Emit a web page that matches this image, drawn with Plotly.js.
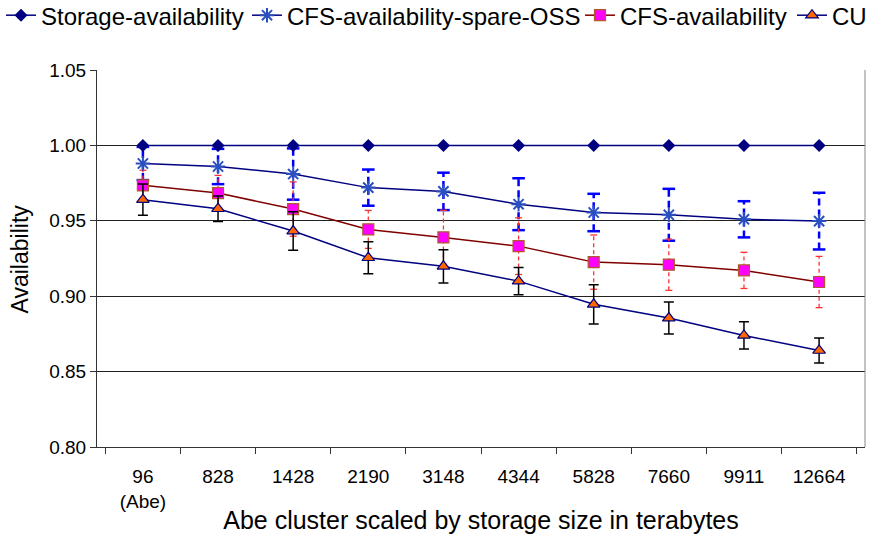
<!DOCTYPE html>
<html><head><meta charset="utf-8">
<script src="https://cdn.plot.ly/plotly-3.0.1.min.js"></script>
<style>html,body{margin:0;padding:0;background:#fff}#chart{width:872px;height:535px}</style>
</head><body><div id="chart"></div>
<script>
const categories = ["96<br>(Abe)","828","1428","2190","3148","4344","5828","7660","9911","12664"];
const storageAvail = [1,1,1,1,1,1,1,1,1,1];
const cfsSpare = [0.988,0.986,0.981,0.972,0.9695,0.961,0.9555,0.954,0.951,0.9498];
const cfsSpareErr = [0.011,0.0117,0.017,0.012,0.0124,0.0172,0.0124,0.0172,0.012,0.0188];
const cfsAvail = [0.9735,0.9684,0.9578,0.9443,0.939,0.9332,0.9226,0.9209,0.9171,0.9094];
const cfsAvailErr = [0.01,0.0117,0.018,0.0126,0.018,0.0188,0.018,0.017,0.012,0.017];
const cu = [0.964,0.958,0.9432,0.9255,0.9198,0.910,0.8946,0.8855,0.874,0.864];
const cuErr = [0.0104,0.0084,0.0128,0.0106,0.011,0.009,0.013,0.0106,0.009,0.0083];
const yTitle = 'Availability';
const xTitle = 'Abe cluster scaled by storage size in terabytes';

function errSegments(vals, errs){
  const x=[], y=[];
  vals.forEach((v,i)=>{ x.push(categories[i],categories[i],null); y.push(v-errs[i],v+errs[i],null); });
  return {x,y};
}
function errCaps(vals, errs){
  const x=[], y=[];
  vals.forEach((v,i)=>{ x.push(categories[i],categories[i]); y.push(v-errs[i],v+errs[i]); });
  return {x,y};
}
const sSeg = errSegments(cfsSpare, cfsSpareErr), sCap = errCaps(cfsSpare, cfsSpareErr);
const cSeg = errSegments(cfsAvail, cfsAvailErr), cCap = errCaps(cfsAvail, cfsAvailErr);

const traces = [
  {x:sSeg.x,y:sSeg.y,mode:'lines',line:{color:'#0000ff',width:2.5,dash:'7px,4px'},showlegend:false,hoverinfo:'skip'},
  {x:sCap.x,y:sCap.y,mode:'markers',marker:{symbol:'line-ew',size:9,line:{color:'#0000ff',width:2.5}},showlegend:false,hoverinfo:'skip'},
  {x:cSeg.x,y:cSeg.y,mode:'lines',line:{color:'#ff3333',width:1.3,dash:'4px,3px'},showlegend:false,hoverinfo:'skip'},
  {x:cCap.x,y:cCap.y,mode:'markers',marker:{symbol:'line-ew',size:5,line:{color:'#ff3333',width:1.3}},showlegend:false,hoverinfo:'skip'},
  {name:'Storage-availability',legend:'legend',x:categories,y:storageAvail,mode:'lines+markers',
   line:{color:'#000080',width:1.5},marker:{symbol:'diamond',size:10,color:'#000080'}},
  {name:'CFS-availability-spare-OSS',legend:'legend2',x:categories,y:cfsSpare,mode:'lines+markers',
   line:{color:'#000080',width:1.5},marker:{symbol:'asterisk-open',size:12,color:'#2a4fc0',line:{color:'#2a4fc0',width:2}}},
  {name:'CFS-availability',legend:'legend3',x:categories,y:cfsAvail,mode:'lines+markers',
   line:{color:'#800000',width:1.5},marker:{symbol:'square',size:11,color:'#ff00ff',line:{color:'#b05a2a',width:1.2}}},
  {name:'CU',legend:'legend4',x:categories,y:cu,mode:'lines+markers',
   error_y:{type:'data',array:cuErr,visible:true,color:'#000000',thickness:1.5,width:5},
   line:{color:'#000080',width:1.5},marker:{symbol:'triangle-up',size:11,color:'#ff6600',line:{color:'#000080',width:1.2}}}
];

function leg(xpx, anchor){
  return {orientation:'h',x:xpx/872,xref:'container',xanchor:anchor,y:1.204,yref:'paper',yanchor:'top',
    font:{size:24},itemwidth:30,bgcolor:'rgba(0,0,0,0)',borderwidth:0};
}

const layout = {
  width:872,height:535,
  margin:{l:97,r:7,t:70,b:88,autoexpand:false},
  paper_bgcolor:'#fff',plot_bgcolor:'#fff',
  font:{family:'"Liberation Sans", Arial, sans-serif',color:'#000',size:19},
  showlegend:true,
  legend:leg(1,'left'),
  legend2:leg(247,'left'),
  legend3:leg(580,'left'),
  legend4:leg(872,'right'),
  xaxis:{type:'category',showgrid:false,showline:true,linecolor:'#333',linewidth:1,
    ticks:'outside',tickson:'boundaries',ticklen:6,tickcolor:'#333',ticklabelstandoff:12,
    tickfont:{size:19},zeroline:false,automargin:false,
    title:{text:xTitle,font:{size:25},standoff:0}},
  yaxis:{range:[0.80,1.05],dtick:0.05,tickformat:'.2f',showgrid:true,gridcolor:'#222',gridwidth:1,
    showline:true,linecolor:'#333',linewidth:1,ticks:'outside',ticklen:6,tickcolor:'#333',
    tickfont:{size:19},zeroline:false,automargin:false},
  annotations:[{text:yTitle,textangle:-90,xref:'paper',yref:'paper',x:-0.1003,y:0.5,
    xanchor:'center',yanchor:'middle',showarrow:false,font:{size:23}}],
  shapes:[{type:'line',xref:'paper',yref:'paper',x0:1,x1:1,y0:0,y1:1,line:{color:'#888',width:1}}]
};
Plotly.newPlot('chart',traces,layout,{displayModeBar:false,staticPlot:true});
</script></body></html>
